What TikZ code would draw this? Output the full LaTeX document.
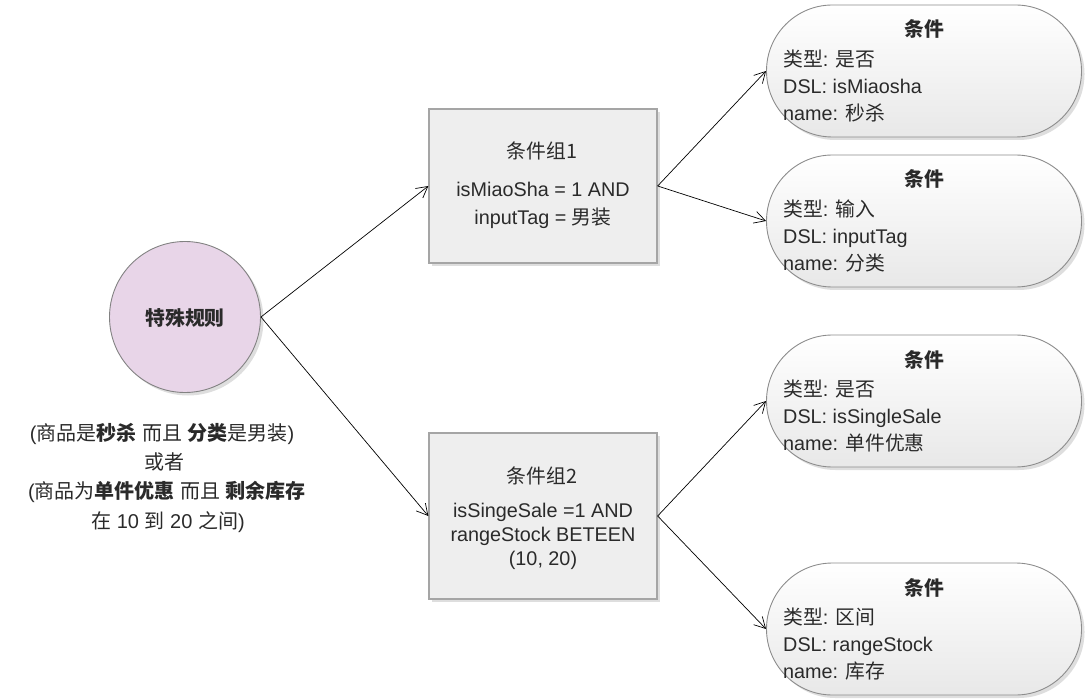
\documentclass[tikz,border=0pt]{standalone}
\usepackage{fontspec}
\setmainfont{Liberation Sans}
\newfontfamily\cjk{Noto Sans CJK SC}
\usetikzlibrary{arrows.meta,shadows,calc}
\newcommand\zh[1]{{\cjk #1}}
\newcommand\zb[1]{{\cjk\bfseries #1}}
\definecolor{txt}{HTML}{2A2A2A}
\definecolor{rulefill}{RGB}{232,213,232}
\definecolor{rululine}{RGB}{130,130,130}
\definecolor{boxfill}{RGB}{238,238,238}
\definecolor{boxline}{RGB}{165,165,165}
\definecolor{condline}{RGB}{140,140,140}
\definecolor{condbot}{RGB}{232,232,232}
\definecolor{shad}{RGB}{222,222,222}
\newcommand\condnode[5]{%
  \node[condbox] (#1) at (924,#2) {};
  \node[lbl] at ($(#1)+(0,-34)$) {\zb{条件}};
  \node[ltxt] at ($(#1)+(-141,-4.5)$) {#3};
  \node[ltxt] at ($(#1)+(-141,22.5)$) {#4};
  \node[ltxt] at ($(#1)+(-141,49.5)$) {#5};
}
\begin{document}
\begin{tikzpicture}[x=1pt,y=-1pt,
  font=\fontsize{19.8}{24}\selectfont,
  every node/.style={text=txt},
  myshadow/.style={drop shadow={shadow xshift=3pt,shadow yshift=-3pt,fill=shad,opacity=1}},
  circ/.style={circle, draw=rululine, line width=0.9pt, fill=rulefill, minimum size=151pt, inner sep=0pt, myshadow},
  grp/.style={rectangle, draw=boxline, line width=1.3pt, fill=boxfill, minimum width=228pt, inner sep=0pt, myshadow},
  condbox/.style={rectangle, rounded corners=65.9pt, draw=condline, line width=0.9pt, top color=white, bottom color=condbot, minimum width=315pt, minimum height=132pt, inner sep=0pt, myshadow},
  lbl/.style={inner sep=0pt, anchor=base},
  ltxt/.style={inner sep=0pt, anchor=base west},
  arr/.style={draw=black, line width=0.7pt, -{Straight Barb[length=11pt,width=12pt]}}
]
\useasboundingbox (0,0) rectangle (1086,700);

% central rule
\node[circ] (rule) at (185,317) {};
\node[inner sep=0pt] (ruletxt) at (185,318) {\zb{特殊规则}};

% description
\begin{scope}[font=\fontsize{20}{24}\selectfont]
\node[lbl] (d1) at (162,440) {(\zh{商品是}\zb{秒杀} \zh{而且} \zb{分类}\zh{是男装})};
\node[lbl] (d2) at (164,469) {\zh{或者}};
\node[lbl] (d3) at (167,498.5) {(\zh{商品为}\zb{单件优惠} \zh{而且} \zb{剩余库存}};
\node[lbl] (d4) at (168,528) {\zh{在} 10 \zh{到} 20 \zh{之间})};
\end{scope}

% group boxes
\node[grp, minimum height=154pt] (g1) at (543,186) {};
\node[lbl] at (542,159) {\zh{条件组1}};
\node[lbl] at (543,197) {isMiaoSha = 1 AND};
\node[lbl] at (543,225) {inputTag = \zh{男装}};

\node[grp, minimum height=166pt] (g2) at (543,516) {};
\node[lbl] at (542,483) {\zh{条件组2}};
\node[lbl] at (543,517) {isSingeSale =1 AND};
\node[lbl] at (543,541) {rangeStock BETEEN};
\node[lbl] at (543,565) {(10, 20)};

% conditions
\condnode{c1}{71}{\zh{类型}: \zh{是否}}{DSL: isMiaosha}{name: \zh{秒杀}}
\condnode{c2}{221}{\zh{类型}: \zh{输入}}{DSL: inputTag}{name: \zh{分类}}
\condnode{c3}{401}{\zh{类型}: \zh{是否}}{DSL: isSingleSale}{name: \zh{单件优惠}}
\condnode{c4}{629}{\zh{类型}: \zh{区间}}{DSL: rangeStock}{name: \zh{库存}}

% connectors
\draw[arr] (rule.east) -- (g1.west);
\draw[arr] (rule.east) -- (g2.west);
\draw[arr] (g1.east) -- (c1.west);
\draw[arr] (g1.east) -- (c2.west);
\draw[arr] (g2.east) -- (c3.west);
\draw[arr] (g2.east) -- (c4.west);
\end{tikzpicture}
\end{document}
